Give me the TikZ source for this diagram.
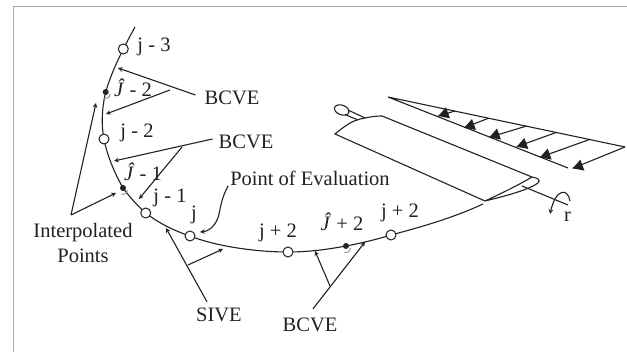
\documentclass[tikz,border=0pt]{standalone}
\usepackage{fontspec}
\setmainfont{Liberation Serif}
\definecolor{myink}{rgb}{0.14,0.12,0.13}
\definecolor{myframe}{rgb}{0.66,0.66,0.66}
\definecolor{myswoosh}{rgb}{0.55,0.55,0.55}
\tikzset{
  mylabel/.style={font=\fontsize{20.5}{22}\selectfont,text=myink,inner sep=0pt},
  mypoint/.style={circle,draw=myink,fill=white,line width=1pt,minimum size=10pt,inner sep=0pt},
  mydot/.style={circle,fill=myink,minimum size=6pt,inner sep=0pt},
  myline/.style={draw=myink,line width=1.1pt},
  mypointer/.style={myline,-stealth},
}
\begin{document}
\begin{tikzpicture}[x=1pt,y=-1pt]
  \useasboundingbox (0,0) rectangle (627,352);
  \draw[myframe,line width=1pt] (13,352) -- (13,6.5) -- (627,6.5);
  % blade section
  \draw[myline] (135,27) .. controls (124,47) and (112,70) .. (105.7,92)
    .. controls (102,107) and (101,125) .. (104,139)
    .. controls (107,155) and (114,172) .. (123,188)
    .. controls (132,200) and (140,208) .. (145.7,213)
    .. controls (160,224) and (175,231) .. (190,236)
    .. controls (215,246) and (255,252) .. (288,252)
    .. controls (310,252) and (330,249) .. (346,246)
    .. controls (362,243) and (378,239) .. (391,235)
    .. controls (425,226) and (455,217) .. (483,204);
  \node[mypoint] (jm3) at (123.3,49) {};
  \node[mypoint] (jm2) at (104,139) {};
  \node[mypoint] (jm1) at (145.7,213) {};
  \node[mypoint] (j0) at (190,236) {};
  \node[mypoint] (jp2) at (288,252) {};
  \node[mypoint] (jp2b) at (391,235) {};
  \foreach \dx/\dy/\dname in {105.7/92/hatA,123/188/hatB,346/246/hatC} {
    \draw[myswoosh,line width=.9pt] (\dx+4.5,\dy+2) .. controls (\dx+4,\dy+6) and (\dx+1,\dy+7) .. (\dx-1.5,\dy+6.5);
    \node[mydot] (\dname) at (\dx,\dy) {};}
  \node[mylabel] (ljm3) at (154,47) {j - 3};
  \node[mylabel] (lhatA) at (133,88) {\textit{Ĵ} - 2};
  \node[mylabel] (ljm2) at (137,133) {j - 2};
  \node[mylabel] (lhatB) at (143,172) {\textit{Ĵ} - 1};
  \node[mylabel] (ljm1) at (170,198) {j - 1};
  \node[mylabel] (lj0) at (194,215) {j};
  \node[mylabel] (ljp2) at (278,233) {j + 2};
  \node[mylabel] (lhatC) at (342,222) {\textit{Ĵ} + 2};
  \node[mylabel] (ljp2b) at (400,213) {j + 2};
  \node[mylabel] (bcveA) at (232,98) {BCVE};
  \node[mylabel] (bcveB) at (246,142) {BCVE};
  \node[mylabel] (bcveC) at (310,325) {BCVE};
  \node[mylabel] (sive) at (219,315) {SIVE};
  \node[mylabel] (eval) at (310,178) {Point of Evaluation};
  \node[mylabel,align=center] (interp) at (83,243) {Interpolated\\[3pt]Points};
  % pointers
  \coordinate (forkA) at (170,90);
  \coordinate (forkB) at (182,147);
  \coordinate (forkC) at (330,286);
  \coordinate (forkD) at (188,265);
  \coordinate (forkE) at (71,215);
  \draw[mypointer] (bcveA.west) ++(-9,-3) -- (118,68);
  \draw[mypointer] (forkA) -- (106,114);
  \draw[mypointer] (bcveB.west) ++(-6,-3) -- (114,161);
  \draw[mypointer] (forkB) -- (139,199);
  \draw[mypointer] (bcveC.north) ++(3,-9) -- (365,242);
  \draw[mypointer] (forkC) -- (315,251);
  \draw[mypointer] (sive.north) ++(-12,-6) -- (166,228);
  \draw[mypointer] (forkD) -- (223,249);
  \draw[mypointer] (forkE) -- (96,103);
  \draw[mypointer] (forkE) -- (116,193);
  \draw[mypointer] (eval.west) ++(-2,8) .. controls (222,197) and (221,205) .. (219,214)
    .. controls (217,224) and (210,231) .. (200,232);
  % wing
  \draw[myline] (485,201) -- (335,134) .. controls (345,126) and (352,120) .. (365,118)
    .. controls (372,116.5) and (377,116) .. (382,116) -- (532,177)
    .. controls (538,178) and (541,180) .. (538,183)
    .. controls (530,189) and (510,195) .. (485,201)
    .. controls (500,194) and (517,186) .. (532,177);
  \draw[myline] (522,186) -- (568,205);
  \draw[myline,rotate around={-20:(341.7,110)}] (341.7,110) ellipse (7.5pt and 4.8pt);
  \draw[myline] (348,110) -- (365,118);
  \draw[myline] (345,114.5) -- (358,120);
  \draw[mypointer] (570,201) .. controls (568,188) and (556,188) .. (550,214);
  \node[mylabel] (lr) at (567.5,217) {r};
  % load
  \draw[myline] (568,168) -- (388,97) -- (625,147);
  \foreach \tx/\ty/\hx/\hy in {455/111/438.3/116,488.3/118.3/464.3/127.7,526.7/126/489.3/137.3,
      556.7/132.3/516.7/146.7,590/139.3/540/157.3,625/147/572.7/168.3} {
    \draw[myline] (\tx,\ty) -- (\hx,\hy);
    \fill[myink] (\hx,\hy) -- ++(7.7,-8.7) -- ++(4,11) -- cycle;}
\end{tikzpicture}
\end{document}
